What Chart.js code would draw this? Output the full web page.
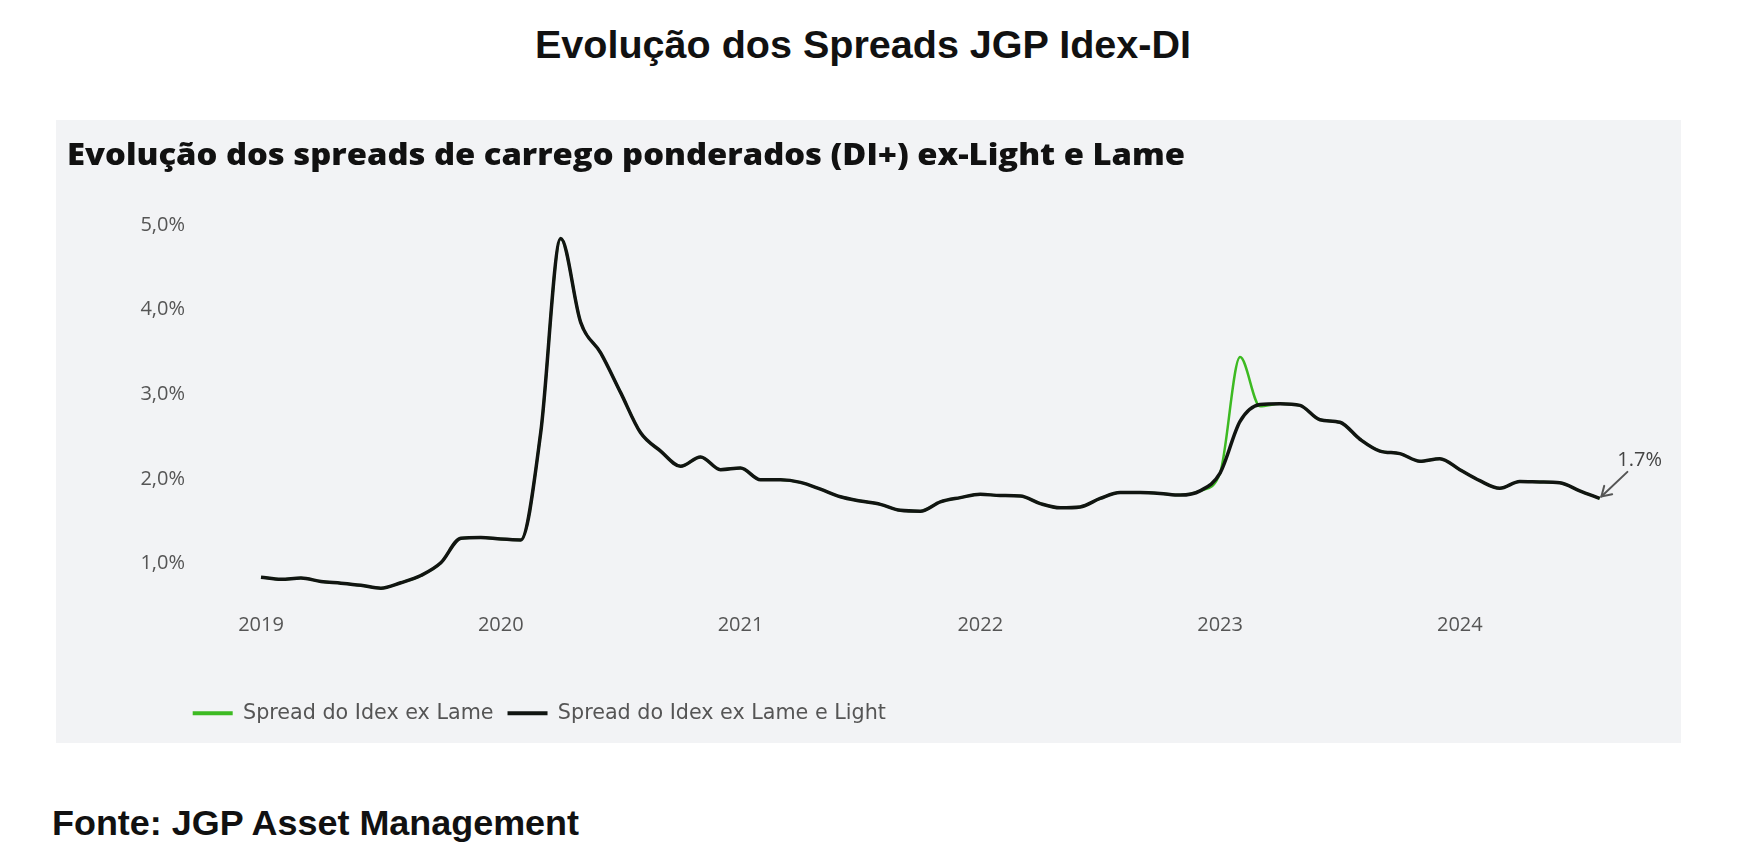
<!DOCTYPE html>
<html><head><meta charset="utf-8">
<script src="https://cdn.jsdelivr.net/npm/chart.js@4.4.1/dist/chart.umd.min.js"></script>
<style>
html,body{margin:0;padding:0;background:#fff;width:1738px;height:864px;overflow:hidden;}
#title{position:absolute;left:535px;top:25px;font-family:"Liberation Sans",Arial,sans-serif;font-weight:bold;font-size:39.5px;line-height:39.5px;white-space:nowrap;color:#111;transform-origin:0 0;}
#panel{position:absolute;left:56px;top:120px;width:1625px;height:623px;background:#f2f3f5;}
#ptitle{position:absolute;left:10.7px;top:20.2px;font-family:"Open Sans",sans-serif;font-weight:800;font-size:29.4px;line-height:29.4px;white-space:nowrap;color:#111;transform-origin:0 0;}
#cw{position:absolute;left:0;top:0;width:1625px;height:623px;}
#source{position:absolute;left:52px;top:806.4px;font-family:"Liberation Sans",Arial,sans-serif;font-weight:bold;font-size:35.8px;line-height:35.8px;white-space:nowrap;color:#111;transform-origin:0 0;}
</style></head>
<body>
<div id="title">Evolução dos Spreads JGP Idex-DI</div>
<div id="panel">
  <div id="cw"><canvas id="c"></canvas></div>
  <div id="ptitle">Evolução dos spreads de carrego ponderados (DI+) ex-Light e Lame</div>
</div>
<div id="source">Fonte: JGP Asset Management</div>
<script>
const months = [
 '2019-01','2019-02','2019-03','2019-04','2019-05','2019-06','2019-07','2019-08','2019-09','2019-10','2019-11','2019-12',
 '2020-01','2020-02','2020-03','2020-04','2020-05','2020-06','2020-07','2020-08','2020-09','2020-10','2020-11','2020-12',
 '2021-01','2021-02','2021-03','2021-04','2021-05','2021-06','2021-07','2021-08','2021-09','2021-10','2021-11','2021-12',
 '2022-01','2022-02','2022-03','2022-04','2022-05','2022-06','2022-07','2022-08','2022-09','2022-10','2022-11','2022-12',
 '2023-01','2023-02','2023-03','2023-04','2023-05','2023-06','2023-07','2023-08','2023-09','2023-10','2023-11','2023-12',
 '2024-01','2024-02','2024-03','2024-04','2024-05','2024-06','2024-07','2024-08'
];
const spreadExLame = [
 0.84,0.815,0.83,0.79,0.77,0.745,0.71,0.775,0.86,1.01,1.30,1.31,
 1.29,1.28,2.55,4.84,3.85,3.49,3.02,2.545,2.33,2.15,2.26,2.11,
 2.13,1.99,1.99,1.96,1.88,1.79,1.74,1.70,1.63,1.62,1.73,1.78,
 1.82,1.805,1.80,1.71,1.66,1.67,1.77,1.84,1.84,1.83,1.81,1.86,
 2.07,3.44,2.86,2.89,2.87,2.70,2.67,2.47,2.33,2.30,2.21,2.24,
 2.11,1.98,1.89,1.97,1.965,1.955,1.86,1.77
];
const spreadExLameLight = [
 0.84,0.815,0.83,0.79,0.77,0.745,0.71,0.775,0.86,1.01,1.30,1.31,
 1.29,1.28,2.55,4.84,3.85,3.49,3.02,2.545,2.33,2.15,2.26,2.11,
 2.13,1.99,1.99,1.96,1.88,1.79,1.74,1.70,1.63,1.62,1.73,1.78,
 1.82,1.805,1.80,1.71,1.66,1.67,1.77,1.84,1.84,1.83,1.81,1.86,
 2.07,2.68,2.88,2.89,2.87,2.70,2.67,2.47,2.33,2.30,2.21,2.24,
 2.11,1.98,1.89,1.97,1.965,1.955,1.86,1.77
];
const yTicks = [1, 2, 3, 4, 5];
const xTickYears = ['2019','2020','2021','2022','2023','2024'];
const seriesNames = ['Spread do Idex ex Lame', 'Spread do Idex ex Lame e Light'];
const lastLabel = '1.7%';

function fitWidth(id, target){
  const el = document.getElementById(id);
  const w = el.getBoundingClientRect().width;
  el.style.transform = 'scaleX(' + (target / w) + ')';
}

const annot = {
  id: 'annot',
  afterDatasetsDraw(chart){
    const meta = chart.getDatasetMeta(1);
    const pt = meta.data[meta.data.length - 1];
    const ctx = chart.ctx;
    ctx.save();
    const x0 = pt.x + 27.7, y0 = pt.y - 26.6, x1 = pt.x + 1.7, y1 = pt.y - 2;
    ctx.strokeStyle = '#555';
    ctx.lineWidth = 2;
    ctx.lineCap = 'round';
    ctx.beginPath(); ctx.moveTo(x0, y0); ctx.lineTo(x1, y1); ctx.stroke();
    const ang = Math.atan2(y1 - y0, x1 - x0), L = 11, a = 0.55;
    ctx.beginPath();
    ctx.moveTo(x1 - L * Math.cos(ang - a), y1 - L * Math.sin(ang - a));
    ctx.lineTo(x1, y1);
    ctx.lineTo(x1 - L * Math.cos(ang + a), y1 - L * Math.sin(ang + a));
    ctx.stroke();
    ctx.fillStyle = '#444';
    ctx.font = '500 20px "Open Sans"';
    ctx.textAlign = 'center';
    ctx.textBaseline = 'middle';
    ctx.fillText(lastLabel, pt.x + 40, pt.y - 38.6);
    ctx.restore();
  }
};

// shifts the legend box so its first item starts where the reference legend starts
const legendShift = {
  id: 'legendShift',
  afterLayout(chart){
    const lg = chart.legend;
    if (!lg) return;
    const dx = 42.7;
    lg.left += dx; lg.right += dx;
  }
};

function make(){
  fitWidth('title', 656);
  fitWidth('ptitle', 1118);
  fitWidth('source', 527);
  new Chart(document.getElementById('c'), {
    type: 'line',
    data: {
      labels: months,
      datasets: [
        { label: seriesNames[0], data: spreadExLame, borderColor: '#3dba22', backgroundColor: '#3dba22',
          borderWidth: 2.5, pointRadius: 0, cubicInterpolationMode: 'monotone', order: 2 },
        { label: seriesNames[1], data: spreadExLameLight, borderColor: '#111511', backgroundColor: '#111511',
          borderWidth: 3.5, pointRadius: 0, cubicInterpolationMode: 'monotone', order: 1 }
      ]
    },
    options: {
      responsive: true,
      maintainAspectRatio: false,
      animation: false,
      layout: { padding: { left: 80, right: 81.3, top: 105, bottom: 9.3 } },
      plugins: {
        tooltip: { enabled: false },
        legend: {
          position: 'bottom',
          align: 'start',
          labels: {
            boxWidth: 40, boxHeight: 4, padding: 14, color: '#555',
            font: { family: '"DejaVu Sans"', size: 20.7 },
            generateLabels(chart){
              const items = Chart.defaults.plugins.legend.labels.generateLabels(chart);
              items.forEach(it => {
                const ds = chart.data.datasets[it.datasetIndex];
                it.fillStyle = ds.borderColor; it.strokeStyle = ds.borderColor; it.lineWidth = 0;
              });
              return items.sort((p, q) => p.datasetIndex - q.datasetIndex);
            }
          }
        }
      },
      scales: {
        x: {
          type: 'category',
          offset: false,
          grid: { display: false, drawTicks: false },
          border: { display: false },
          ticks: {
            autoSkip: false, maxRotation: 0, minRotation: 0, padding: 7, color: '#555',
            font: { family: '"Open Sans"', size: 20 },
            callback(value, index){
              const l = months[index];
              const yr = l.slice(0, 4);
              return (l.endsWith('-01') && xTickYears.includes(yr)) ? yr : null;
            }
          },
          afterFit(scale){ scale.height = 83; }
        },
        y: {
          min: 0.5, max: 5,
          grid: { display: false, drawTicks: false },
          border: { display: false },
          afterBuildTicks(scale){ scale.ticks = yTicks.map(v => ({ value: v })); },
          ticks: {
            padding: 76, color: '#555',
            font: { family: '"Open Sans"', size: 20 },
            callback(v){ return v.toFixed(1).replace('.', ',') + '%'; }
          },
          afterFit(scale){ scale.width = 125; }
        }
      }
    },
    plugins: [annot, legendShift]
  });
}
if (document.fonts && document.fonts.ready) { document.fonts.ready.then(make); } else { make(); }
</script>
</body></html>
